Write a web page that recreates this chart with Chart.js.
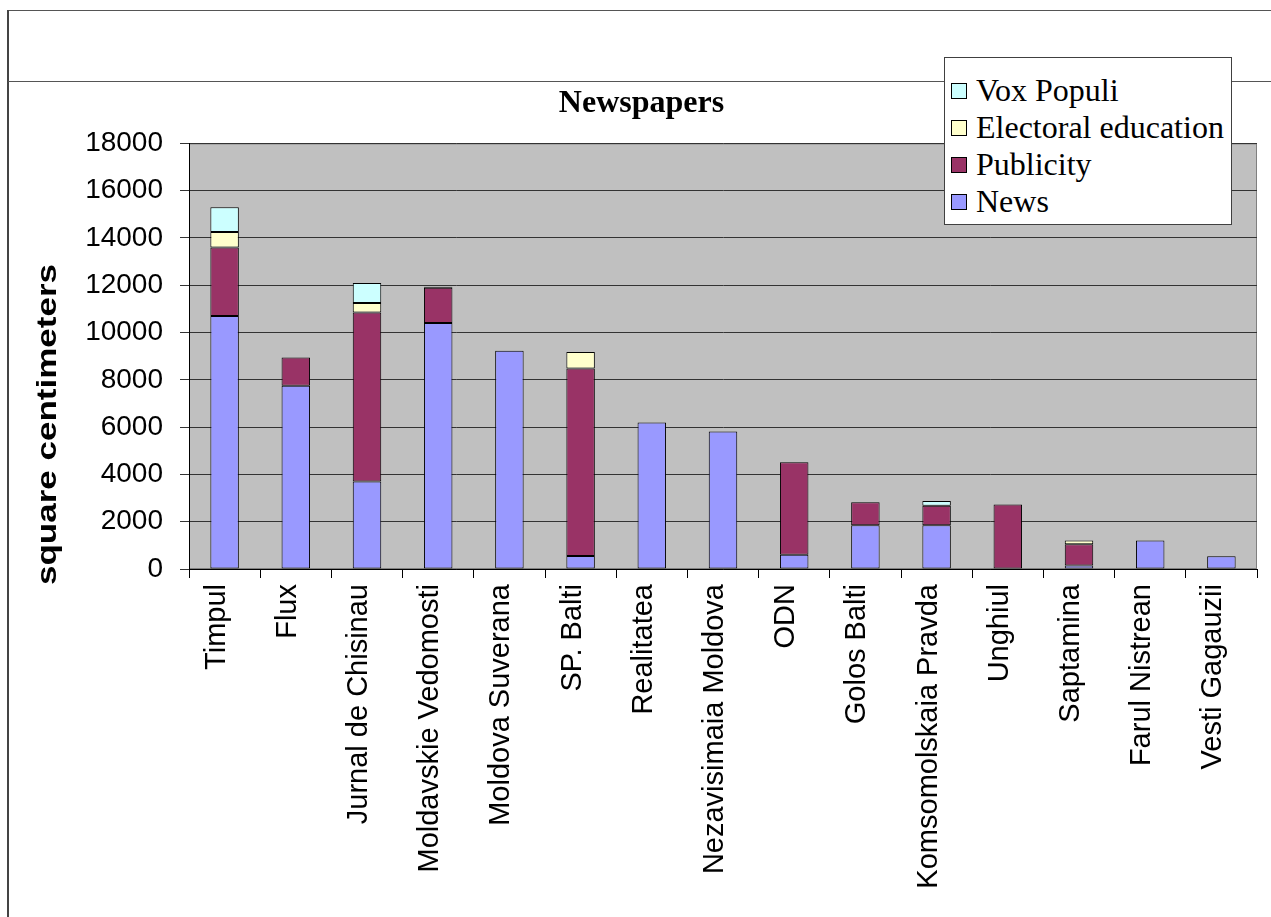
<!DOCTYPE html>
<html>
<head>
<meta charset="utf-8">
<script src="https://cdn.jsdelivr.net/npm/chart.js@4/dist/chart.umd.min.js"></script>
<style>
  html, body { margin: 0; padding: 0; background: #fff; }
  body { width: 1271px; height: 917px; position: relative; overflow: hidden; }
  #chart { position: absolute; left: 0; top: 0; }
  .frame { position: absolute; background: #444; }
  #legend {
    position: absolute; left: 944px; top: 57px; width: 286px; height: 152px;
    border: 1px solid #404040; background: #fff; z-index: 5;
    padding-top: 14px; box-sizing: content-box;
    font-family: "Liberation Serif", "Times New Roman", serif; font-size: 32px; color: #000;
  }
  #legend .row { height: 37px; line-height: 37px; white-space: nowrap; display: flex; align-items: center; }
  #legend .sw { width: 14px; height: 14px; border: 1px solid #000; margin-left: 6px; margin-right: 9px; flex: none; }
</style>
</head>
<body>
<div class="frame" style="left:8px; top:10px; width:1263px; height:1px; background:#555;"></div>
<div class="frame" style="left:7px; top:10px; width:2px; height:907px;"></div>
<div class="frame" style="left:8px; top:81px; width:1263px; height:1px; background:#555;"></div>
<canvas id="chart" width="1271" height="917"></canvas>
<div id="legend"></div>
<script>
const categories = ['Timpul', 'Flux', 'Jurnal de Chisinau', 'Moldavskie Vedomosti', 'Moldova Suverana', 'SP. Balti', 'Realitatea', 'Nezavisimaia Moldova', 'ODN', 'Golos Balti', 'Komsomolskaia Pravda', 'Unghiul', 'Saptamina', 'Farul Nistrean', 'Vesti Gagauzii'];
const news = [10700, 7750, 3700, 10400, 9230, 550, 6200, 5820, 600, 1850, 1850, 0, 150, 1210, 540];
const publicity = [2900, 1200, 7150, 1500, 0, 7930, 0, 0, 3920, 970, 830, 2730, 900, 0, 0];
const electoralEducation = [650, 0, 400, 40, 0, 700, 0, 0, 0, 0, 0, 0, 160, 0, 0];
const voxPopuli = [1050, 0, 850, 0, 0, 0, 0, 0, 0, 0, 200, 0, 0, 0, 0];
const seriesNames = ['News', 'Publicity', 'Electoral education', 'Vox Populi'];
const yTicks = [0, 2000, 4000, 6000, 8000, 10000, 12000, 14000, 16000, 18000];
const chartTitle = 'Newspapers';
const yTitle = 'square centimeters';

const colors = ['#9999FF', '#993366', '#FFFFCC', '#CCFFFF'];
const seriesData = [news, publicity, electoralEducation, voxPopuli];

const plotBg = {
  id: 'plotBg',
  beforeDraw(chart) {
    const { ctx, chartArea: a } = chart;
    ctx.save();
    ctx.fillStyle = '#C0C0C0';
    ctx.fillRect(a.left, a.top, a.right - a.left, a.bottom - a.top);
    ctx.strokeStyle = '#808080';
    ctx.lineWidth = 1;
    ctx.strokeRect(a.left + 0.5, a.top + 0.5, a.right - a.left - 1, a.bottom - a.top - 1);
    ctx.restore();
    // the original's rotated axis title is drawn taller than wide: stretch it along its length
    const ys = chart.scales.y;
    if (ys && !ys._stretchWrapped && typeof ys.drawTitle === 'function') {
      const orig = ys.drawTitle;
      ys.drawTitle = function () {
        const c = this.ctx;
        const b = this.bottom;
        c.save();
        c.translate(0, b + 16);
        c.scale(1, 1.25);
        c.translate(0, -b);
        orig.apply(this, arguments);
        c.restore();
      };
      ys._stretchWrapped = true;
    }
  }
};

const chart = new Chart(document.getElementById('chart'), {
  type: 'bar',
  data: {
    labels: categories,
    datasets: seriesData.map((d, i) => ({
      label: seriesNames[i],
      data: d,
      backgroundColor: colors[i],
      borderColor: '#000',
      borderWidth: 1,
      borderSkipped: false,
      barPercentage: 0.4,
      categoryPercentage: 1.0
    }))
  },
  options: {
    responsive: false,
    animation: false,
    devicePixelRatio: 1,
    layout: { padding: { left: 26, top: 80, right: 14, bottom: 0 } },
    plugins: {
      legend: { display: false },
      tooltip: { enabled: false },
      title: {
        display: true,
        text: chartTitle,
        color: '#000',
        font: { family: '"Liberation Serif", "Times New Roman", serif', size: 32, weight: 'bold', lineHeight: 1.2 },
        padding: { top: 5, bottom: 20 }
      }
    },
    scales: {
      x: {
        stacked: true,
        offset: true,
        grid: { offset: true, drawOnChartArea: false, drawTicks: true, tickLength: 9, color: '#000', lineWidth: 1 },
        border: { display: true, color: '#000', width: 1 },
        ticks: {
          autoSkip: false, maxRotation: 90, minRotation: 90, padding: 6, labelOffset: -8, color: '#000',
          font: { family: '"Liberation Sans", Arial, sans-serif', size: 29 }
        },
        afterFit(scale) { scale.height = 917 - 569; }
      },
      y: {
        stacked: true,
        min: 0, max: 18000,
        afterBuildTicks(scale) { scale.ticks = yTicks.map(v => ({ value: v })); },
        grid: { color: '#333', lineWidth: 1, drawTicks: true, tickLength: 9 },
        border: { display: true, color: '#000', width: 1 },
        ticks: {
          padding: 17, color: '#000',
          font: { family: '"Liberation Sans", Arial, sans-serif', size: 28 },
          callback: (v) => String(v)
        },
        title: {
          display: true, text: yTitle, align: 'start', color: '#000',
          font: { family: '"Liberation Sans", Arial, sans-serif', size: 28, weight: 'bold', lineHeight: 1.2 },
          padding: { top: 5, bottom: 0 }
        },
        afterFit(scale) { scale.width = 189 - 26; }
      }
    }
  },
  plugins: [plotBg]
});

// legend built from dataset definitions (top series first, as in the original)
const legendEl = document.getElementById('legend');
chart.data.datasets.slice().reverse().forEach(ds => {
  const row = document.createElement('div');
  row.className = 'row';
  const sw = document.createElement('span');
  sw.className = 'sw';
  sw.style.background = ds.backgroundColor;
  const tx = document.createElement('span');
  tx.textContent = ds.label;
  row.appendChild(sw);
  row.appendChild(tx);
  legendEl.appendChild(row);
});
</script>
</body>
</html>
